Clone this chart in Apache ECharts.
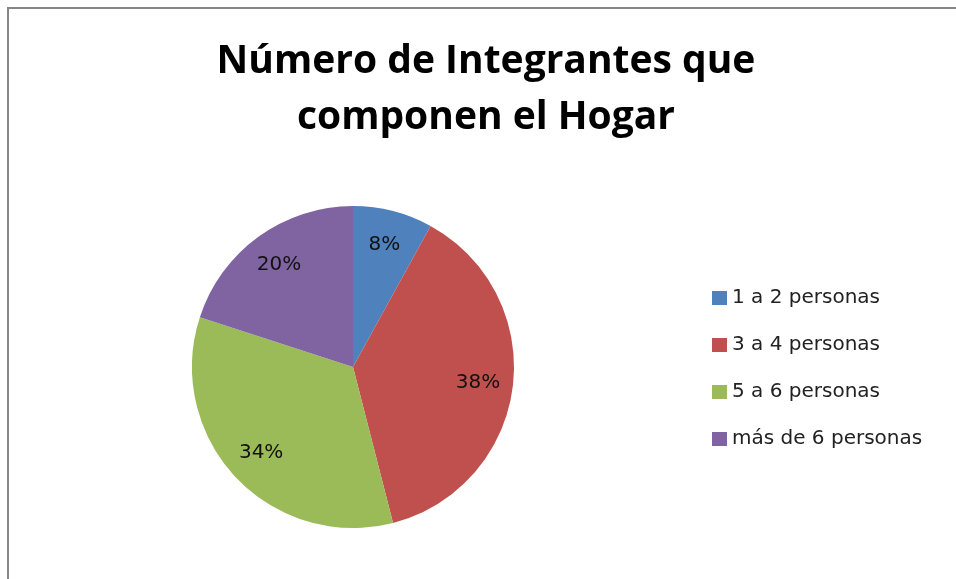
<!DOCTYPE html>
<html>
<head>
<meta charset="utf-8">
<script src="https://cdn.jsdelivr.net/npm/echarts@6/dist/echarts.min.js"></script>
<style>
  html, body { margin: 0; padding: 0; background: #fff; }
  #frame {
    position: absolute; left: 7px; top: 7px; right: 0; bottom: 0;
    border-left: 2px solid #868686; border-top: 2px solid #868686;
  }
  #chart { position: absolute; left: 0; top: 0; width: 956px; height: 579px; }
</style>
</head>
<body>
<div id="frame"></div>
<div id="chart"></div>
<script>
const titleText = 'Número de Integrantes que\ncomponen el Hogar'
const categories = ['1 a 2 personas', '3 a 4 personas', '5 a 6 personas', 'más de 6 personas']
const values = [8, 38, 34, 20]
const colors = ['#4F81BD', '#C0504D', '#9BBB59', '#8064A2']

const pieData = categories.map((name, i) => ({ name: name, value: values[i] }))

const chart = echarts.init(document.getElementById('chart'))
chart.setOption({
  animation: false,
  color: colors,
  title: {
    text: titleText,
    left: 481,
    textAlign: 'center',
    top: 29,
    textStyle: {
      fontFamily: 'Open Sans',
      fontWeight: 'bold',
      fontSize: 39,
      lineHeight: 56,
      color: '#000'
    }
  },
  legend: {
    orient: 'vertical',
    left: 707,
    top: 283,
    itemWidth: 15,
    itemHeight: 14,
    itemGap: 27,
    icon: 'rect',
    data: categories,
    textStyle: { fontFamily: 'DejaVu Sans', fontSize: 20, color: '#222' }
  },
  series: [
    {
      type: 'pie',
      center: [353, 367],
      radius: 161,
      startAngle: 90,
      clockwise: true,
      label: { show: false },
      labelLine: { show: false },
      emphasis: { disabled: true },
      data: pieData
    },
    {
      // transparent ring used only to place the percent labels
      type: 'pie',
      center: [353, 367],
      radius: [85, 161],
      startAngle: 90,
      clockwise: true,
      silent: true,
      itemStyle: { color: 'rgba(0,0,0,0)' },
      emphasis: { disabled: true },
      label: {
        show: true,
        position: 'inside',
        formatter: '{c}%',
        fontFamily: 'DejaVu Sans',
        fontSize: 20,
        color: '#111'
      },
      labelLine: { show: false },
      data: pieData
    }
  ]
})
</script>
</body>
</html>
